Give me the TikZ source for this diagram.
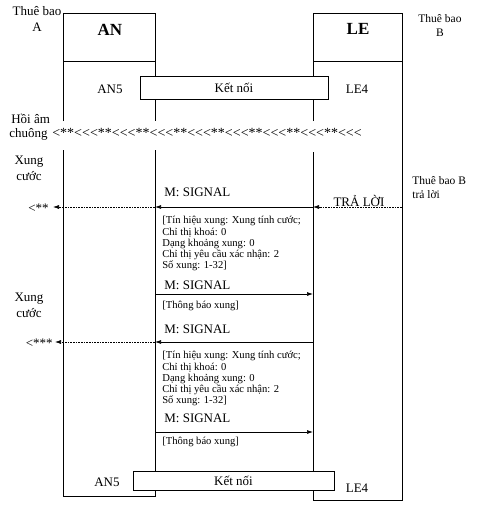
\documentclass[tikz,border=0pt]{standalone}
\usepackage{fontspec}
\setmainfont{Liberation Serif}
\newfontfamily\ringfont{Liberation Serif}[Ligatures=TeXOff]
\usetikzlibrary{arrows.meta}

\begin{document}
\begin{tikzpicture}[x=1pt, y=-1pt, line width=0.7pt,
        txt/.style={font=\fontsize{13}{16}\selectfont, inner sep=0pt},
        small/.style={font=\fontsize{11.5}{14}\selectfont, inner sep=0pt, align=left},
        note/.style={font=\fontsize{10.6}{11.3}\selectfont, inner sep=0pt, align=left, anchor=north west},
        head/.style={font=\fontsize{17}{20}\selectfont\bfseries, inner sep=0pt, anchor=base},
        conn/.style={draw, fill=white, inner sep=0pt, font=\fontsize{13}{16}\selectfont},
        sig/.style={-{Latex[length=6pt,width=4pt]}},
        dot/.style={densely dotted, line width=0.6pt, -{Latex[length=6pt,width=4pt]}}]
        \useasboundingbox (0,0) rectangle (480,508);
        % columns
        \draw (63,121) -- (63,13) -- (155,13) -- (155,121);
        \draw (63,61) -- (155,61);
        \draw (63,150) -- (63,496) -- (155,496) -- (155,150);
        \draw (313,121) -- (313,13) -- (402,13) -- (402,500) -- (313,500) -- (313,152);
        \draw (313,61) -- (402,61);
        % heads
        \node (an) [head] at (110,36) {AN};
        \node (le) [head] at (358,35) {LE};
        \node (tba) [txt, align=center, anchor=base] at (37,32) {Thuê bao\\A};
        \node (tbb) [small, align=center, anchor=base] at (440,37) {Thuê bao\\B};
        % connect
        \node (kn1) [conn, minimum width=188pt, minimum height=23pt] at (234,87.5) {Kết nối};
        \node (an5) [txt, anchor=base] at (110,94) {AN5};
        \node (le4) [txt, anchor=base] at (357,94) {LE4};
        % ringing
        \node (hoi) [txt, anchor=base west] at (11,123) {Hồi âm};
        \node (chuong) [txt, anchor=base east] at (48,137) {chuông};
        \node (ring) [font=\fontsize{14}{16}\ringfont, inner sep=0pt, anchor=base west] at (52,137) {<**<<<**<<<**<<<**<<<**<<<**<<<**<<<**<<<};
        % answer
        \coordinate (a1) at (402,207);
        \coordinate (a2) at (313,207);
        \coordinate (a3) at (155,207);
        \coordinate (a4) at (53,207);
        \draw [dot] (a1) -- (a2);
        \node (tl) [txt, fill=white, inner xsep=1pt, anchor=base] at (359,206) {TRẢ LỜI};
        \node (tbbt) [small, anchor=base west] at (412,198) {Thuê bao B\\trả lời};
        \draw [sig] (a2) -- (a3);
        \draw [dot] (a3) -- (a4);
        \node (m1) [txt, anchor=base west] at (164,196) {M: SIGNAL};
        \node (x1) [txt, align=center, anchor=base] at (29,180) {Xung\\cước};
        \node (p1) [txt, font=\fontsize{13}{16}\ringfont, anchor=base east] at (49,212) {<**};
        \node (n1) [note] at (162,216) {[Tín hiệu xung: Xung tính cước;\\Chỉ thị khoá: 0\\Dạng khoảng xung: 0\\Chỉ thị yêu cầu xác nhận: 2\\Số xung: 1-32]};
        % ack 1
        \coordinate (b1) at (155,294);
        \coordinate (b2) at (313,294);
        \draw [sig] (b1) -- (b2);
        \node (m2) [txt, anchor=base west] at (164,289) {M: SIGNAL};
        \node (t1) [note, anchor=base west] at (162,308) {[Thông báo xung]};
        % pulse 2
        \coordinate (c1) at (313,342);
        \coordinate (c2) at (155,342);
        \coordinate (c3) at (55,342);
        \draw [sig] (c1) -- (c2);
        \draw [dot] (c2) -- (c3);
        \node (m3) [txt, anchor=base west] at (164,333) {M: SIGNAL};
        \node (x2) [txt, align=center, anchor=base] at (29,317) {Xung\\cước};
        \node (p2) [txt, font=\fontsize{13}{16}\ringfont, anchor=base east] at (53,347) {<***};
        \node (n2) [note] at (162,351) {[Tín hiệu xung: Xung tính cước;\\Chỉ thị khoá: 0\\Dạng khoảng xung: 0\\Chỉ thị yêu cầu xác nhận: 2\\Số xung: 1-32]};
        % ack 2
        \coordinate (d1) at (155,432);
        \coordinate (d2) at (313,432);
        \draw [sig] (d1) -- (d2);
        \node (m4) [txt, anchor=base west] at (164,422) {M: SIGNAL};
        \node (t2) [note, anchor=base west] at (162,444) {[Thông báo xung]};
        % release
        \node (kn2) [conn, minimum width=201pt, minimum height=19pt] at (233.5,480.5) {Kết nối};
        \node (an5b) [txt, anchor=base] at (107,486) {AN5};
        \node (le4b) [txt, anchor=base] at (357,492) {LE4};
    \end{tikzpicture}
\end{document}
